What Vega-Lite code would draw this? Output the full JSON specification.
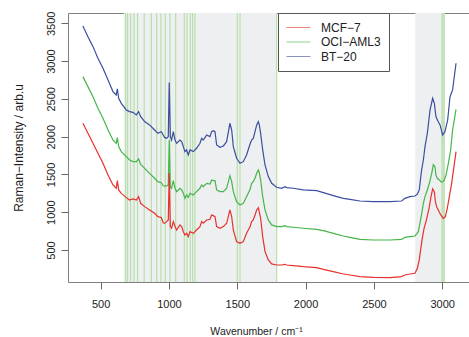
{
  "$schema": "https://vega.github.io/schema/vega-lite/v6.json",
  "width": 401,
  "height": 269,
  "autosize": {"type": "none"},
  "padding": {"left": 68, "top": 13, "right": 0, "bottom": 55},
  "config": {
    "font": "Liberation Sans",
    "view": {"stroke": "#808080", "strokeWidth": 1},
    "axis": {"grid": false, "domain": false, "tickColor": "#666666", "tickSize": 7, "labelColor": "#222222", "titleColor": "#222222", "titleFontWeight": "normal", "labelFontSize": 11, "titleFontSize": 12, "format": "d"}
  },
  "datasets": {
    "bands": [{"start": 670, "end": 1790}, {"start": 2803, "end": 3020}],
    "marks": [{"wn": 683}, {"wn": 697}, {"wn": 719}, {"wn": 744}, {"wn": 770}, {"wn": 819}, {"wn": 871}, {"wn": 910}, {"wn": 941}, {"wn": 973}, {"wn": 1007}, {"wn": 1049}, {"wn": 1112}, {"wn": 1132}, {"wn": 1156}, {"wn": 1173}, {"wn": 1190}, {"wn": 1500}, {"wn": 1520}, {"wn": 1788}, {"wn": 2998}, {"wn": 3006}, {"wn": 3014}],
    "spectra": [
      {"cell": "BT−20", "wn": 370, "i": 3464}, {"cell": "BT−20", "wn": 407, "i": 3323}, {"cell": "BT−20", "wn": 444, "i": 3191}, {"cell": "BT−20", "wn": 480, "i": 3037}, {"cell": "BT−20", "wn": 517, "i": 2904}, {"cell": "BT−20", "wn": 554, "i": 2750}, {"cell": "BT−20", "wn": 590, "i": 2596}, {"cell": "BT−20", "wn": 614, "i": 2551}, {"cell": "BT−20", "wn": 622, "i": 2631}, {"cell": "BT−20", "wn": 632, "i": 2507}, {"cell": "BT−20", "wn": 651, "i": 2441}, {"cell": "BT−20", "wn": 688, "i": 2353}, {"cell": "BT−20", "wn": 712, "i": 2331}, {"cell": "BT−20", "wn": 736, "i": 2322}, {"cell": "BT−20", "wn": 761, "i": 2287}, {"cell": "BT−20", "wn": 778, "i": 2331}, {"cell": "BT−20", "wn": 793, "i": 2265}, {"cell": "BT−20", "wn": 822, "i": 2199}, {"cell": "BT−20", "wn": 858, "i": 2155}, {"cell": "BT−20", "wn": 895, "i": 2088}, {"cell": "BT−20", "wn": 919, "i": 2044}, {"cell": "BT−20", "wn": 944, "i": 2066}, {"cell": "BT−20", "wn": 958, "i": 2022}, {"cell": "BT−20", "wn": 968, "i": 1990}, {"cell": "BT−20", "wn": 983, "i": 1978}, {"cell": "BT−20", "wn": 995, "i": 2000}, {"cell": "BT−20", "wn": 1002, "i": 2715}, {"cell": "BT−20", "wn": 1010, "i": 2000}, {"cell": "BT−20", "wn": 1019, "i": 1956}, {"cell": "BT−20", "wn": 1032, "i": 2066}, {"cell": "BT−20", "wn": 1044, "i": 1956}, {"cell": "BT−20", "wn": 1056, "i": 1912}, {"cell": "BT−20", "wn": 1080, "i": 1956}, {"cell": "BT−20", "wn": 1093, "i": 1934}, {"cell": "BT−20", "wn": 1105, "i": 1868}, {"cell": "BT−20", "wn": 1117, "i": 1802}, {"cell": "BT−20", "wn": 1129, "i": 1824}, {"cell": "BT−20", "wn": 1141, "i": 1758}, {"cell": "BT−20", "wn": 1154, "i": 1824}, {"cell": "BT−20", "wn": 1178, "i": 1802}, {"cell": "BT−20", "wn": 1202, "i": 1846}, {"cell": "BT−20", "wn": 1227, "i": 1912}, {"cell": "BT−20", "wn": 1239, "i": 1978}, {"cell": "BT−20", "wn": 1251, "i": 1956}, {"cell": "BT−20", "wn": 1276, "i": 2022}, {"cell": "BT−20", "wn": 1300, "i": 2000}, {"cell": "BT−20", "wn": 1312, "i": 2066}, {"cell": "BT−20", "wn": 1324, "i": 2079}, {"cell": "BT−20", "wn": 1337, "i": 2066}, {"cell": "BT−20", "wn": 1349, "i": 1890}, {"cell": "BT−20", "wn": 1373, "i": 1859}, {"cell": "BT−20", "wn": 1398, "i": 1877}, {"cell": "BT−20", "wn": 1422, "i": 1934}, {"cell": "BT−20", "wn": 1446, "i": 2177}, {"cell": "BT−20", "wn": 1459, "i": 2088}, {"cell": "BT−20", "wn": 1471, "i": 1868}, {"cell": "BT−20", "wn": 1495, "i": 1714}, {"cell": "BT−20", "wn": 1520, "i": 1647}, {"cell": "BT−20", "wn": 1544, "i": 1669}, {"cell": "BT−20", "wn": 1568, "i": 1758}, {"cell": "BT−20", "wn": 1593, "i": 1900}, {"cell": "BT−20", "wn": 1605, "i": 1956}, {"cell": "BT−20", "wn": 1617, "i": 1978}, {"cell": "BT−20", "wn": 1630, "i": 2066}, {"cell": "BT−20", "wn": 1642, "i": 2155}, {"cell": "BT−20", "wn": 1654, "i": 2199}, {"cell": "BT−20", "wn": 1661, "i": 2155}, {"cell": "BT−20", "wn": 1671, "i": 2044}, {"cell": "BT−20", "wn": 1686, "i": 1824}, {"cell": "BT−20", "wn": 1703, "i": 1625}, {"cell": "BT−20", "wn": 1727, "i": 1471}, {"cell": "BT−20", "wn": 1752, "i": 1383}, {"cell": "BT−20", "wn": 1788, "i": 1330}, {"cell": "BT−20", "wn": 1825, "i": 1317}, {"cell": "BT−20", "wn": 1849, "i": 1339}, {"cell": "BT−20", "wn": 1861, "i": 1326}, {"cell": "BT−20", "wn": 1910, "i": 1317}, {"cell": "BT−20", "wn": 1983, "i": 1295}, {"cell": "BT−20", "wn": 2081, "i": 1286}, {"cell": "BT−20", "wn": 2130, "i": 1259}, {"cell": "BT−20", "wn": 2203, "i": 1220}, {"cell": "BT−20", "wn": 2276, "i": 1184}, {"cell": "BT−20", "wn": 2325, "i": 1171}, {"cell": "BT−20", "wn": 2398, "i": 1149}, {"cell": "BT−20", "wn": 2496, "i": 1140}, {"cell": "BT−20", "wn": 2618, "i": 1140}, {"cell": "BT−20", "wn": 2703, "i": 1149}, {"cell": "BT−20", "wn": 2727, "i": 1184}, {"cell": "BT−20", "wn": 2764, "i": 1206}, {"cell": "BT−20", "wn": 2801, "i": 1215}, {"cell": "BT−20", "wn": 2818, "i": 1240}, {"cell": "BT−20", "wn": 2832, "i": 1295}, {"cell": "BT−20", "wn": 2849, "i": 1559}, {"cell": "BT−20", "wn": 2862, "i": 1691}, {"cell": "BT−20", "wn": 2874, "i": 1867}, {"cell": "BT−20", "wn": 2891, "i": 2045}, {"cell": "BT−20", "wn": 2911, "i": 2353}, {"cell": "BT−20", "wn": 2930, "i": 2508}, {"cell": "BT−20", "wn": 2942, "i": 2442}, {"cell": "BT−20", "wn": 2954, "i": 2265}, {"cell": "BT−20", "wn": 2971, "i": 2198}, {"cell": "BT−20", "wn": 2984, "i": 2155}, {"cell": "BT−20", "wn": 3003, "i": 2022}, {"cell": "BT−20", "wn": 3020, "i": 2066}, {"cell": "BT−20", "wn": 3040, "i": 2220}, {"cell": "BT−20", "wn": 3057, "i": 2529}, {"cell": "BT−20", "wn": 3076, "i": 2618}, {"cell": "BT−20", "wn": 3101, "i": 2971},

      {"cell": "OCI−AML3", "wn": 370, "i": 2794}, {"cell": "OCI−AML3", "wn": 407, "i": 2662}, {"cell": "OCI−AML3", "wn": 444, "i": 2529}, {"cell": "OCI−AML3", "wn": 480, "i": 2375}, {"cell": "OCI−AML3", "wn": 517, "i": 2243}, {"cell": "OCI−AML3", "wn": 554, "i": 2088}, {"cell": "OCI−AML3", "wn": 590, "i": 1956}, {"cell": "OCI−AML3", "wn": 614, "i": 1912}, {"cell": "OCI−AML3", "wn": 622, "i": 1987}, {"cell": "OCI−AML3", "wn": 632, "i": 1868}, {"cell": "OCI−AML3", "wn": 651, "i": 1802}, {"cell": "OCI−AML3", "wn": 688, "i": 1736}, {"cell": "OCI−AML3", "wn": 712, "i": 1692}, {"cell": "OCI−AML3", "wn": 736, "i": 1670}, {"cell": "OCI−AML3", "wn": 761, "i": 1670}, {"cell": "OCI−AML3", "wn": 778, "i": 1705}, {"cell": "OCI−AML3", "wn": 793, "i": 1634}, {"cell": "OCI−AML3", "wn": 822, "i": 1581}, {"cell": "OCI−AML3", "wn": 858, "i": 1515}, {"cell": "OCI−AML3", "wn": 895, "i": 1449}, {"cell": "OCI−AML3", "wn": 919, "i": 1405}, {"cell": "OCI−AML3", "wn": 944, "i": 1390}, {"cell": "OCI−AML3", "wn": 958, "i": 1350}, {"cell": "OCI−AML3", "wn": 968, "i": 1345}, {"cell": "OCI−AML3", "wn": 983, "i": 1348}, {"cell": "OCI−AML3", "wn": 995, "i": 1361}, {"cell": "OCI−AML3", "wn": 1002, "i": 1956}, {"cell": "OCI−AML3", "wn": 1010, "i": 1339}, {"cell": "OCI−AML3", "wn": 1019, "i": 1317}, {"cell": "OCI−AML3", "wn": 1032, "i": 1418}, {"cell": "OCI−AML3", "wn": 1044, "i": 1317}, {"cell": "OCI−AML3", "wn": 1056, "i": 1273}, {"cell": "OCI−AML3", "wn": 1080, "i": 1317}, {"cell": "OCI−AML3", "wn": 1093, "i": 1295}, {"cell": "OCI−AML3", "wn": 1105, "i": 1251}, {"cell": "OCI−AML3", "wn": 1117, "i": 1184}, {"cell": "OCI−AML3", "wn": 1129, "i": 1228}, {"cell": "OCI−AML3", "wn": 1141, "i": 1198}, {"cell": "OCI−AML3", "wn": 1154, "i": 1251}, {"cell": "OCI−AML3", "wn": 1178, "i": 1228}, {"cell": "OCI−AML3", "wn": 1202, "i": 1273}, {"cell": "OCI−AML3", "wn": 1227, "i": 1317}, {"cell": "OCI−AML3", "wn": 1239, "i": 1361}, {"cell": "OCI−AML3", "wn": 1251, "i": 1339}, {"cell": "OCI−AML3", "wn": 1276, "i": 1383}, {"cell": "OCI−AML3", "wn": 1300, "i": 1374}, {"cell": "OCI−AML3", "wn": 1312, "i": 1427}, {"cell": "OCI−AML3", "wn": 1324, "i": 1418}, {"cell": "OCI−AML3", "wn": 1337, "i": 1418}, {"cell": "OCI−AML3", "wn": 1349, "i": 1295}, {"cell": "OCI−AML3", "wn": 1373, "i": 1273}, {"cell": "OCI−AML3", "wn": 1398, "i": 1273}, {"cell": "OCI−AML3", "wn": 1422, "i": 1317}, {"cell": "OCI−AML3", "wn": 1446, "i": 1484}, {"cell": "OCI−AML3", "wn": 1459, "i": 1405}, {"cell": "OCI−AML3", "wn": 1471, "i": 1273}, {"cell": "OCI−AML3", "wn": 1495, "i": 1140}, {"cell": "OCI−AML3", "wn": 1520, "i": 1096}, {"cell": "OCI−AML3", "wn": 1544, "i": 1118}, {"cell": "OCI−AML3", "wn": 1568, "i": 1206}, {"cell": "OCI−AML3", "wn": 1593, "i": 1300}, {"cell": "OCI−AML3", "wn": 1605, "i": 1383}, {"cell": "OCI−AML3", "wn": 1617, "i": 1405}, {"cell": "OCI−AML3", "wn": 1630, "i": 1449}, {"cell": "OCI−AML3", "wn": 1642, "i": 1515}, {"cell": "OCI−AML3", "wn": 1654, "i": 1559}, {"cell": "OCI−AML3", "wn": 1661, "i": 1524}, {"cell": "OCI−AML3", "wn": 1671, "i": 1427}, {"cell": "OCI−AML3", "wn": 1686, "i": 1206}, {"cell": "OCI−AML3", "wn": 1703, "i": 1030}, {"cell": "OCI−AML3", "wn": 1727, "i": 898}, {"cell": "OCI−AML3", "wn": 1752, "i": 832}, {"cell": "OCI−AML3", "wn": 1788, "i": 810}, {"cell": "OCI−AML3", "wn": 1825, "i": 810}, {"cell": "OCI−AML3", "wn": 1849, "i": 823}, {"cell": "OCI−AML3", "wn": 1861, "i": 810}, {"cell": "OCI−AML3", "wn": 1910, "i": 801}, {"cell": "OCI−AML3", "wn": 1983, "i": 788}, {"cell": "OCI−AML3", "wn": 2081, "i": 774}, {"cell": "OCI−AML3", "wn": 2130, "i": 757}, {"cell": "OCI−AML3", "wn": 2203, "i": 721}, {"cell": "OCI−AML3", "wn": 2276, "i": 686}, {"cell": "OCI−AML3", "wn": 2325, "i": 668}, {"cell": "OCI−AML3", "wn": 2398, "i": 642}, {"cell": "OCI−AML3", "wn": 2496, "i": 633}, {"cell": "OCI−AML3", "wn": 2618, "i": 633}, {"cell": "OCI−AML3", "wn": 2703, "i": 642}, {"cell": "OCI−AML3", "wn": 2727, "i": 668}, {"cell": "OCI−AML3", "wn": 2764, "i": 677}, {"cell": "OCI−AML3", "wn": 2801, "i": 686}, {"cell": "OCI−AML3", "wn": 2825, "i": 743}, {"cell": "OCI−AML3", "wn": 2837, "i": 854}, {"cell": "OCI−AML3", "wn": 2850, "i": 986}, {"cell": "OCI−AML3", "wn": 2862, "i": 1118}, {"cell": "OCI−AML3", "wn": 2874, "i": 1206}, {"cell": "OCI−AML3", "wn": 2891, "i": 1295}, {"cell": "OCI−AML3", "wn": 2906, "i": 1383}, {"cell": "OCI−AML3", "wn": 2923, "i": 1515}, {"cell": "OCI−AML3", "wn": 2935, "i": 1630}, {"cell": "OCI−AML3", "wn": 2947, "i": 1603}, {"cell": "OCI−AML3", "wn": 2954, "i": 1493}, {"cell": "OCI−AML3", "wn": 2964, "i": 1449}, {"cell": "OCI−AML3", "wn": 2979, "i": 1427}, {"cell": "OCI−AML3", "wn": 2996, "i": 1396}, {"cell": "OCI−AML3", "wn": 3013, "i": 1418}, {"cell": "OCI−AML3", "wn": 3028, "i": 1493}, {"cell": "OCI−AML3", "wn": 3045, "i": 1647}, {"cell": "OCI−AML3", "wn": 3062, "i": 1824}, {"cell": "OCI−AML3", "wn": 3076, "i": 2088}, {"cell": "OCI−AML3", "wn": 3101, "i": 2362},

      {"cell": "MCF−7", "wn": 370, "i": 2177}, {"cell": "MCF−7", "wn": 407, "i": 2044}, {"cell": "MCF−7", "wn": 444, "i": 1912}, {"cell": "MCF−7", "wn": 480, "i": 1780}, {"cell": "MCF−7", "wn": 517, "i": 1647}, {"cell": "MCF−7", "wn": 554, "i": 1493}, {"cell": "MCF−7", "wn": 590, "i": 1361}, {"cell": "MCF−7", "wn": 614, "i": 1317}, {"cell": "MCF−7", "wn": 622, "i": 1418}, {"cell": "MCF−7", "wn": 632, "i": 1295}, {"cell": "MCF−7", "wn": 651, "i": 1250}, {"cell": "MCF−7", "wn": 688, "i": 1193}, {"cell": "MCF−7", "wn": 712, "i": 1162}, {"cell": "MCF−7", "wn": 736, "i": 1176}, {"cell": "MCF−7", "wn": 761, "i": 1162}, {"cell": "MCF−7", "wn": 778, "i": 1206}, {"cell": "MCF−7", "wn": 793, "i": 1118}, {"cell": "MCF−7", "wn": 822, "i": 1074}, {"cell": "MCF−7", "wn": 858, "i": 1030}, {"cell": "MCF−7", "wn": 895, "i": 986}, {"cell": "MCF−7", "wn": 919, "i": 942}, {"cell": "MCF−7", "wn": 944, "i": 930}, {"cell": "MCF−7", "wn": 958, "i": 860}, {"cell": "MCF−7", "wn": 968, "i": 853}, {"cell": "MCF−7", "wn": 983, "i": 876}, {"cell": "MCF−7", "wn": 995, "i": 898}, {"cell": "MCF−7", "wn": 1002, "i": 1519}, {"cell": "MCF−7", "wn": 1010, "i": 810}, {"cell": "MCF−7", "wn": 1019, "i": 788}, {"cell": "MCF−7", "wn": 1032, "i": 876}, {"cell": "MCF−7", "wn": 1044, "i": 810}, {"cell": "MCF−7", "wn": 1056, "i": 765}, {"cell": "MCF−7", "wn": 1080, "i": 832}, {"cell": "MCF−7", "wn": 1093, "i": 810}, {"cell": "MCF−7", "wn": 1105, "i": 743}, {"cell": "MCF−7", "wn": 1117, "i": 699}, {"cell": "MCF−7", "wn": 1129, "i": 721}, {"cell": "MCF−7", "wn": 1141, "i": 677}, {"cell": "MCF−7", "wn": 1154, "i": 743}, {"cell": "MCF−7", "wn": 1178, "i": 721}, {"cell": "MCF−7", "wn": 1202, "i": 765}, {"cell": "MCF−7", "wn": 1227, "i": 810}, {"cell": "MCF−7", "wn": 1239, "i": 876}, {"cell": "MCF−7", "wn": 1251, "i": 854}, {"cell": "MCF−7", "wn": 1276, "i": 898}, {"cell": "MCF−7", "wn": 1300, "i": 907}, {"cell": "MCF−7", "wn": 1312, "i": 964}, {"cell": "MCF−7", "wn": 1324, "i": 955}, {"cell": "MCF−7", "wn": 1337, "i": 942}, {"cell": "MCF−7", "wn": 1349, "i": 810}, {"cell": "MCF−7", "wn": 1373, "i": 788}, {"cell": "MCF−7", "wn": 1398, "i": 810}, {"cell": "MCF−7", "wn": 1422, "i": 854}, {"cell": "MCF−7", "wn": 1446, "i": 1030}, {"cell": "MCF−7", "wn": 1459, "i": 942}, {"cell": "MCF−7", "wn": 1471, "i": 765}, {"cell": "MCF−7", "wn": 1495, "i": 611}, {"cell": "MCF−7", "wn": 1520, "i": 589}, {"cell": "MCF−7", "wn": 1544, "i": 611}, {"cell": "MCF−7", "wn": 1568, "i": 721}, {"cell": "MCF−7", "wn": 1593, "i": 809}, {"cell": "MCF−7", "wn": 1605, "i": 876}, {"cell": "MCF−7", "wn": 1617, "i": 898}, {"cell": "MCF−7", "wn": 1630, "i": 964}, {"cell": "MCF−7", "wn": 1642, "i": 1030}, {"cell": "MCF−7", "wn": 1654, "i": 1060}, {"cell": "MCF−7", "wn": 1661, "i": 1008}, {"cell": "MCF−7", "wn": 1671, "i": 920}, {"cell": "MCF−7", "wn": 1686, "i": 677}, {"cell": "MCF−7", "wn": 1703, "i": 479}, {"cell": "MCF−7", "wn": 1727, "i": 369}, {"cell": "MCF−7", "wn": 1752, "i": 316}, {"cell": "MCF−7", "wn": 1788, "i": 302}, {"cell": "MCF−7", "wn": 1825, "i": 302}, {"cell": "MCF−7", "wn": 1849, "i": 311}, {"cell": "MCF−7", "wn": 1861, "i": 302}, {"cell": "MCF−7", "wn": 1910, "i": 293}, {"cell": "MCF−7", "wn": 1983, "i": 280}, {"cell": "MCF−7", "wn": 2081, "i": 267}, {"cell": "MCF−7", "wn": 2130, "i": 245}, {"cell": "MCF−7", "wn": 2203, "i": 214}, {"cell": "MCF−7", "wn": 2276, "i": 183}, {"cell": "MCF−7", "wn": 2325, "i": 170}, {"cell": "MCF−7", "wn": 2398, "i": 148}, {"cell": "MCF−7", "wn": 2496, "i": 139}, {"cell": "MCF−7", "wn": 2618, "i": 135}, {"cell": "MCF−7", "wn": 2703, "i": 148}, {"cell": "MCF−7", "wn": 2727, "i": 170}, {"cell": "MCF−7", "wn": 2764, "i": 183}, {"cell": "MCF−7", "wn": 2801, "i": 192}, {"cell": "MCF−7", "wn": 2818, "i": 258}, {"cell": "MCF−7", "wn": 2832, "i": 369}, {"cell": "MCF−7", "wn": 2842, "i": 501}, {"cell": "MCF−7", "wn": 2854, "i": 655}, {"cell": "MCF−7", "wn": 2867, "i": 787}, {"cell": "MCF−7", "wn": 2881, "i": 876}, {"cell": "MCF−7", "wn": 2893, "i": 964}, {"cell": "MCF−7", "wn": 2906, "i": 1074}, {"cell": "MCF−7", "wn": 2918, "i": 1206}, {"cell": "MCF−7", "wn": 2930, "i": 1310}, {"cell": "MCF−7", "wn": 2942, "i": 1272}, {"cell": "MCF−7", "wn": 2950, "i": 1140}, {"cell": "MCF−7", "wn": 2959, "i": 1074}, {"cell": "MCF−7", "wn": 2971, "i": 1030}, {"cell": "MCF−7", "wn": 2989, "i": 964}, {"cell": "MCF−7", "wn": 3008, "i": 920}, {"cell": "MCF−7", "wn": 3023, "i": 942}, {"cell": "MCF−7", "wn": 3037, "i": 1052}, {"cell": "MCF−7", "wn": 3052, "i": 1206}, {"cell": "MCF−7", "wn": 3069, "i": 1383}, {"cell": "MCF−7", "wn": 3086, "i": 1603}, {"cell": "MCF−7", "wn": 3101, "i": 1802}
    ]
  },
  "layer": [
    {
      "data": {"name": "bands"},
      "mark": {"type": "rect", "color": "#edeff0"},
      "encoding": {
        "x": {"field": "start", "type": "quantitative", "scale": {"domain": [261, 3196], "nice": false, "zero": false}, "axis": {"values": [500, 1000, 1500, 2000, 2500, 3000], "format": "d", "title": "Wavenumber / cm⁻¹", "labelPadding": 9, "titleX": 188, "titleY": 52, "titleBaseline": "alphabetic", "titleAlign": "center", "titleFontSize": 10.5}},
        "x2": {"field": "end"}
      }
    },
    {
      "data": {"name": "marks"},
      "mark": {"type": "rule", "color": "#b8e0ac", "strokeWidth": 1.2},
      "encoding": {
        "x": {"field": "wn", "type": "quantitative"}
      }
    },
    {
      "data": {"name": "spectra"},
      "mark": {"type": "line", "strokeWidth": 1.2},
      "encoding": {
        "x": {"field": "wn", "type": "quantitative"},
        "y": {"field": "i", "type": "quantitative", "scale": {"domain": [77, 3636], "nice": false, "zero": false}, "axis": {"values": [500, 1000, 1500, 2000, 2500, 3000, 3500], "format": "d", "title": "Raman−Intensity / arb.u", "labelAngle": 270, "labelAlign": "center", "labelBaseline": "alphabetic", "labelPadding": 7, "titleAngle": 270, "titleX": -50, "titleY": 134.5, "titleAlign": "center", "titleBaseline": "middle", "titleFontSize": 12}},
        "color": {"field": "cell", "type": "nominal", "scale": {"domain": ["MCF−7", "OCI−AML3", "BT−20"], "range": ["#e8302e", "#45b649", "#3b4ea0"]}, "legend": {"title": null, "orient": "none", "legendX": 210, "legendY": 0, "padding": 8, "strokeColor": "#555555", "fillColor": "#ffffff", "symbolType": "M-1,0L3,0", "symbolSize": 144, "symbolStrokeWidth": 1, "symbolOpacity": 0.6, "labelFontSize": 12, "labelOffset": 22, "rowPadding": 1.5, "labelColor": "#222222"}},
        "order": {"field": "cell", "type": "nominal"}
      }
    }
  ]
}
